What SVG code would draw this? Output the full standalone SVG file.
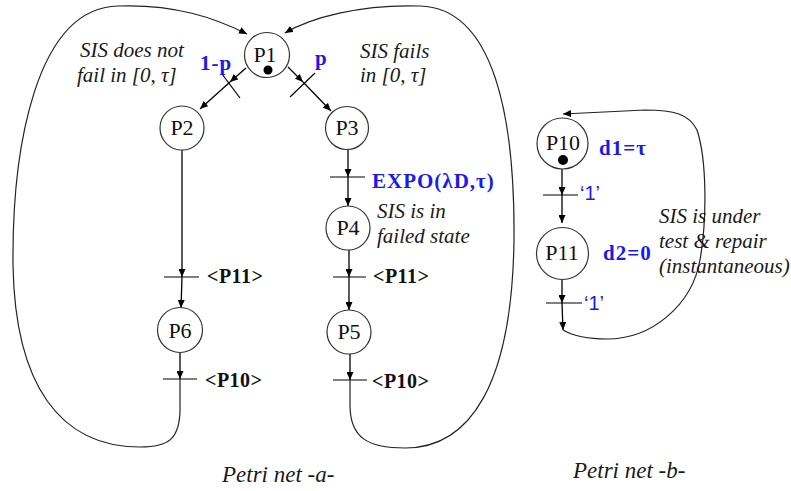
<svg xmlns="http://www.w3.org/2000/svg" width="791" height="491" viewBox="0 0 791 491">
<defs>
<marker id="arr" viewBox="0 0 8 7" refX="8" refY="3.5" markerWidth="8" markerHeight="7" markerUnits="userSpaceOnUse" orient="auto">
<path d="M0,0 L8,3.5 L0,7 z" fill="#000"/>
</marker>
</defs>
<style>
.place{fill:#fff;stroke:#333;stroke-width:1.2}
.tok{fill:#000}
.pl{font-family:"Liberation Serif",serif;font-size:22px;fill:#111;text-anchor:middle}
.arc{fill:none;stroke:#000;stroke-width:1.3}
.loop{fill:none;stroke:#222;stroke-width:1.2}
.bar{stroke:#000;stroke-width:1.2}
.it{font-family:"Liberation Serif",serif;font-style:italic;font-size:21px;fill:#1a1a1a}
.cap{font-family:"Liberation Serif",serif;font-style:italic;font-size:23px;fill:#1a1a1a}
.bl{font-family:"Liberation Serif",serif;font-weight:bold;font-size:21px;fill:#1a1aee;letter-spacing:1px}
.bk{font-family:"Liberation Serif",serif;font-weight:bold;font-size:20px;fill:#111;letter-spacing:0.5px}
.q{font-family:"Liberation Sans",sans-serif;font-size:20px;fill:#1a1aee}
</style>
<rect width="791" height="491" fill="#fff"/>

<g id="connectors">
<line class="arc" x1="246" y1="68" x2="230" y2="82" marker-end="url(#arr)"/>
<line class="arc" x1="230" y1="82" x2="200" y2="109" marker-end="url(#arr)"/>
<line class="bar" x1="222" y1="74" x2="240" y2="98"/>
<line class="arc" x1="288" y1="67" x2="303" y2="82" marker-end="url(#arr)"/>
<line class="arc" x1="303" y1="82" x2="331" y2="111" marker-end="url(#arr)"/>
<line class="bar" x1="290" y1="97" x2="315" y2="73"/>
<line class="arc" x1="182" y1="150" x2="182" y2="277" marker-end="url(#arr)"/>
<line class="bar" x1="164" y1="277" x2="199" y2="277"/>
<line class="arc" x1="182" y1="277" x2="181" y2="308" marker-end="url(#arr)"/>
<line class="arc" x1="180" y1="352" x2="180" y2="379" marker-end="url(#arr)"/>
<line class="bar" x1="163" y1="379" x2="197" y2="379"/>
<path class="loop" d="M180,379 L180,405 C181,440 168,447 140,447 C60,447 15,385 13,265 C12,150 35,8 118,6 C175,4 215,18 247,34" marker-end="url(#arr)"/>
<line class="arc" x1="348" y1="150" x2="348" y2="177" marker-end="url(#arr)"/>
<line class="bar" x1="330" y1="177" x2="365" y2="177"/>
<line class="arc" x1="348" y1="177" x2="348" y2="206" marker-end="url(#arr)"/>
<line class="arc" x1="349" y1="250" x2="349" y2="277" marker-end="url(#arr)"/>
<line class="bar" x1="333" y1="277" x2="366" y2="277"/>
<line class="arc" x1="349" y1="277" x2="349" y2="310" marker-end="url(#arr)"/>
<line class="arc" x1="350" y1="354" x2="350" y2="380" marker-end="url(#arr)"/>
<line class="bar" x1="333" y1="380" x2="367" y2="380"/>
<path class="loop" d="M350,380 L350,405 C350,438 368,448 405,448 C470,448 512,385 514,240 C515,120 495,8 420,6 C360,4 310,18 285,33" marker-end="url(#arr)"/>
<line class="arc" x1="562" y1="169" x2="562" y2="195" marker-end="url(#arr)"/>
<line class="bar" x1="543" y1="195" x2="578" y2="195"/>
<line class="arc" x1="562" y1="195" x2="562" y2="223" marker-end="url(#arr)"/>
<line class="arc" x1="562" y1="279" x2="562" y2="303" marker-end="url(#arr)"/>
<line class="bar" x1="546" y1="303" x2="582" y2="303"/>
<line class="arc" x1="562" y1="303" x2="563" y2="330" marker-end="url(#arr)"/>
<path class="loop" d="M563,330 C575,337 590,339 607,339 C652,339 692,305 700,260 C707,220 707,160 697,130 C689,114 674,110 645,110 L563,114" marker-end="url(#arr)"/>
</g>

<g id="P1"><circle class="place" cx="267" cy="55" r="22.5"/><text class="pl" x="265" y="62">P1</text><circle class="tok" cx="268" cy="70" r="4.5"/></g>
<g id="P2"><circle class="place" cx="182" cy="128" r="22"/><text class="pl" x="182" y="135">P2</text></g>
<g id="P3"><circle class="place" cx="347" cy="128" r="21.5"/><text class="pl" x="347" y="135">P3</text></g>
<g id="P4"><circle class="place" cx="348" cy="228" r="22"/><text class="pl" x="348" y="235">P4</text></g>
<g id="P5"><circle class="place" cx="349" cy="332" r="22"/><text class="pl" x="349" y="339">P5</text></g>
<g id="P6"><circle class="place" cx="180" cy="330" r="22.5"/><text class="pl" x="180" y="338">P6</text></g>
<g id="P10"><circle class="place" cx="562.5" cy="143.5" r="25.5"/><text class="pl" x="563" y="150">P10</text><circle class="tok" cx="563" cy="160" r="5"/></g>
<g id="P11"><circle class="place" cx="562.5" cy="253.5" r="26"/><text class="pl" x="562" y="260">P11</text></g>

<g id="labels">
<text class="it" x="80" y="57">SIS does not</text>
<text class="it" x="77" y="82">fail in [0, τ]</text>
<text class="it" x="360" y="58">SIS fails</text>
<text class="it" x="360" y="82">in [0, τ]</text>
<text class="bl" x="200" y="70">1-p</text>
<text class="bl" x="315" y="65">p</text>
<text class="bl" x="372" y="188">EXPO(λD,τ)</text>
<text class="it" x="377" y="218">SIS is in</text>
<text class="it" x="377" y="243">failed state</text>
<text class="bk" x="207" y="283">&lt;P11&gt;</text>
<text class="bk" x="373" y="283">&lt;P11&gt;</text>
<text class="bk" x="205" y="387">&lt;P10&gt;</text>
<text class="bk" x="372" y="388">&lt;P10&gt;</text>
<text class="bl" x="599" y="155">d1=τ</text>
<text class="bl" x="603" y="260">d2=0</text>
<text class="q" x="580" y="200">‘1’</text>
<text class="q" x="584" y="310">‘1’</text>
<text class="it" x="659" y="223">SIS is under</text>
<text class="it" x="659" y="248">test &amp; repair</text>
<text class="it" x="659" y="273">(instantaneous)</text>
<text class="cap" x="222" y="482">Petri net -a-</text>
<text class="cap" x="573" y="478">Petri net -b-</text>
</g>
</svg>
